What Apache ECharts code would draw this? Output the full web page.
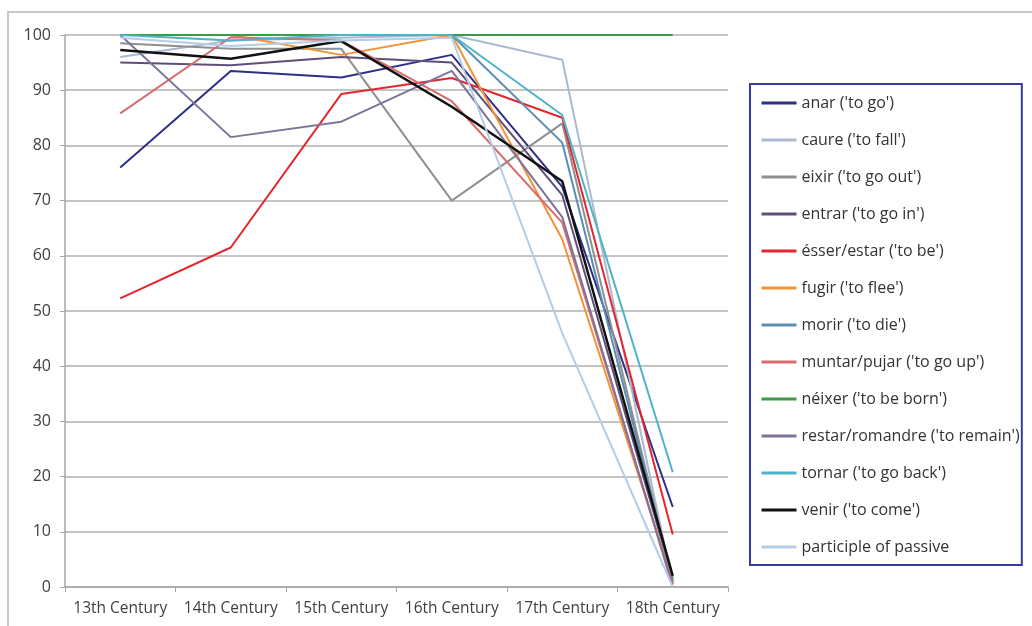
<!DOCTYPE html>
<html>
<head>
<meta charset="utf-8">
<script src="https://cdn.jsdelivr.net/npm/echarts@6/dist/echarts.min.js"></script>
<style>
  html, body { margin: 0; padding: 0; background: #fff; }
  #main { width: 1032px; height: 626px; }
</style>
</head>
<body>
<div id="main"></div>
<script>
// categories
var centuries = ['13th Century', '14th Century', '15th Century', '16th Century', '17th Century', '18th Century'];

// values (percent)
var anar       = [76, 93.5, 92.3, 96.4, 72.5, 14.5];
var caure      = [96, 99, 99.5, 100, 95.5, 0.5];
var eixir      = [98.5, 97.5, 97.5, 70, 84, 1];
var entrar     = [95, 94.5, 96, 95, 71, 1.5];
var esser      = [52.3, 61.5, 89.3, 92.2, 85, 9.5];
var fugir      = [100, 100, 96.4, 100, 63, 1];
var morir      = [100, 100, 100, 100, 80.5, 1];
var muntar     = [85.8, 99.6, 99, 88, 66, 0.5];
var neixer     = [100, 100, 100, 100, 100, 100];
var restar     = [100, 81.5, 84.3, 93.5, 67, 0];
var tornar     = [100, 99, 100, 100, 85.5, 20.8];
var venir      = [97.3, 95.7, 98.9, 87, 73.5, 2];
var participle = [99.5, 98, 99, 99.5, 46, 0];

var names = ["anar ('to go')", "caure ('to fall')", "eixir ('to go out')", "entrar ('to go in')",
    "ésser/estar ('to be')", "fugir ('to flee')", "morir ('to die')", "muntar/pujar ('to go up')",
    "néixer ('to be born')", "restar/romandre ('to remain')", "tornar ('to go back')",
    "venir ('to come')", "participle of passive"];
var values = [anar, caure, eixir, entrar, esser, fugir, morir, muntar, neixer, restar, tornar, venir, participle];
var colors = ['#2e2f86', '#a9bad0', '#8f8f8f', '#5e4f78', '#e3262e', '#f39236', '#5b8db5',
    '#d96b6b', '#3c9a48', '#80739a', '#4db3c8', '#111111', '#b3cde6'];

var font = 'Open Sans';
var chart = echarts.init(document.getElementById('main'));

var series = [];
for (var i = 0; i < names.length; i++) {
    series.push({
        type: 'line',
        name: names[i],
        data: values[i],
        symbol: 'none',
        lineStyle: { color: colors[i], width: i == 11 ? 2.5 : 2 },
        itemStyle: { color: colors[i] }
    });
}

var option = {
    animation: false,
    backgroundColor: '#fff',
    color: colors,
    graphic: [{
        type: 'rect',
        shape: { x: 8, y: 12, width: 1100, height: 700 },
        style: { fill: 'none', stroke: '#c8c8c8', lineWidth: 2 },
        silent: true
    }],
    grid: { left: 65, right: 304, top: 35, bottom: 39 },
    legend: {
        orient: 'vertical',
        left: 750,
        top: 84,
        padding: [10, 2, 9, 10],
        itemWidth: 35,
        itemHeight: 14,
        itemGap: 19,
        itemStyle: { opacity: 0 },
        lineStyle: { width: 3 },
        borderColor: '#3a3a9c',
        borderWidth: 2,
        textStyle: { fontFamily: font, fontSize: 16, color: '#333', lineHeight: 18 },
        data: names
    },
    xAxis: {
        type: 'category',
        data: centuries,
        axisLine: { lineStyle: { color: '#a6a6a6', width: 1.5 } },
        axisTick: { show: true, length: 5, lineStyle: { color: '#a6a6a6' } },
        axisLabel: { fontFamily: font, fontSize: 15.5, color: '#404040', margin: 14, interval: 0, hideOverlap: false }
    },
    yAxis: {
        type: 'value',
        min: 0,
        max: 100,
        interval: 10,
        axisLine: { show: true, lineStyle: { color: '#a6a6a6', width: 1.5 } },
        axisTick: { show: true, length: 5, lineStyle: { color: '#a6a6a6' } },
        axisLabel: { fontFamily: font, fontSize: 16, color: '#404040', margin: 14 },
        splitLine: { lineStyle: { color: '#c4c4c4', width: 2 } }
    },
    series: series
};
chart.setOption(option);
</script>
</body>
</html>
